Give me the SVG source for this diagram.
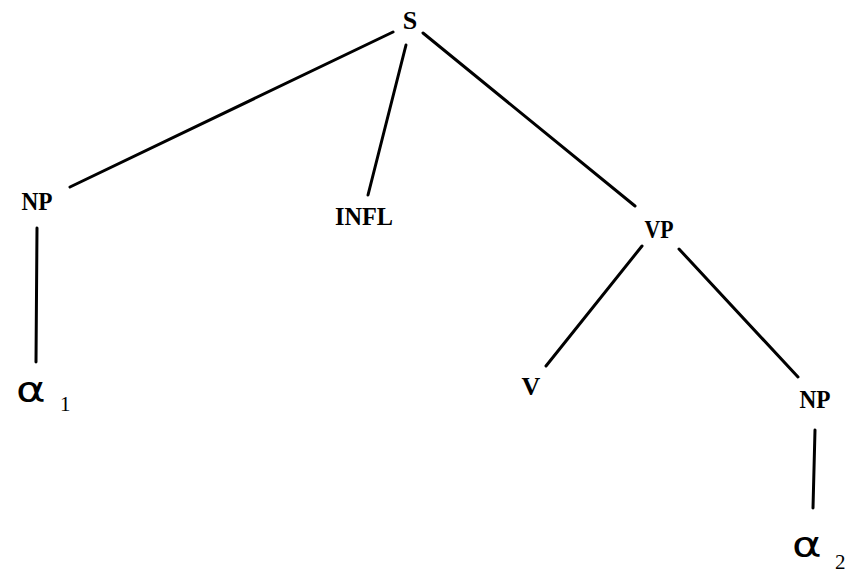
<svg xmlns="http://www.w3.org/2000/svg" width="850" height="575" viewBox="0 0 850 575">
<style>
.lbl{font-family:"Liberation Serif","DejaVu Serif",serif;font-weight:bold;font-size:26px;fill:#000;text-anchor:middle}
.alpha{font-family:"DejaVu Sans","Liberation Sans",sans-serif;font-size:36px;fill:#000}
.sub{font-family:"Liberation Serif",serif;font-size:21px;fill:#000}
.e{stroke:#000;stroke-width:3;stroke-linecap:round;fill:none}
</style>
<rect width="850" height="575" fill="#fff"/>
<g id="connectors">
<line class="e" x1="393" y1="32" x2="70" y2="187"/>
<line class="e" x1="406" y1="45" x2="368" y2="195"/>
<line class="e" x1="423" y1="33" x2="635" y2="206"/>
<line class="e" x1="37" y1="228" x2="36" y2="362"/>
<line class="e" x1="642" y1="246" x2="546" y2="366"/>
<line class="e" x1="679" y1="249" x2="798" y2="377"/>
<line class="e" x1="815" y1="430" x2="813" y2="508"/>
</g>
<g id="S"><text class="lbl" x="410" y="29">S</text></g>
<g id="NP1"><text class="lbl" x="37" y="210" textLength="31" lengthAdjust="spacingAndGlyphs">NP</text></g>
<g id="INFL"><text class="lbl" x="364" y="225" textLength="58" lengthAdjust="spacingAndGlyphs">INFL</text></g>
<g id="VP"><text class="lbl" x="659" y="238" textLength="29" lengthAdjust="spacingAndGlyphs">VP</text></g>
<g id="V"><text class="lbl" x="531" y="395">V</text></g>
<g id="NP2"><text class="lbl" x="815" y="408" textLength="31" lengthAdjust="spacingAndGlyphs">NP</text></g>
<g id="alpha1"><text class="alpha" transform="translate(16 402) scale(1.25 1)">α</text><text class="sub" x="60" y="411">1</text></g>
<g id="alpha2"><text class="alpha" transform="translate(792 557) scale(1.25 1)">α</text><text class="sub" x="835" y="569">2</text></g>
</svg>
